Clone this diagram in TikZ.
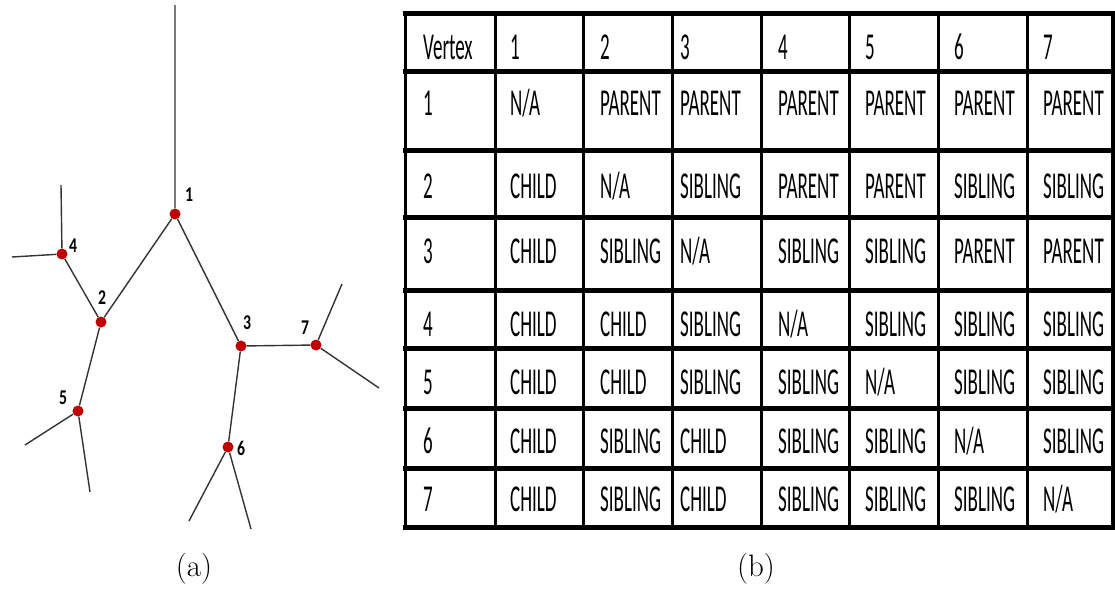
\documentclass[tikz,border=0pt]{standalone}
\usepackage{fontspec}
\newfontfamily\cellfont[FakeStretch=0.5]{Carlito}
\newfontfamily\labfont[FakeStretch=0.75]{Carlito}
\begin{document}
\begin{tikzpicture}[x=1pt,y=-1pt,
	vtx/.style={circle,fill=red!75!black,inner sep=0pt,minimum size=11pt},
	edge/.style={draw=black!80,line width=1.4pt},
	lab/.style={font=\labfont\bfseries\fontsize{21}{24}\selectfont,inner sep=0pt},
	cell/.style={anchor=base west,inner sep=0pt,font=\cellfont\fontsize{38}{44}\selectfont},
	caption/.style={font=\fontsize{31}{36}\selectfont}]
			\useasboundingbox (0,0) rectangle (1115,589);
			% (a) the tree
			\coordinate (top) at (175,5);
			\coordinate (e4a) at (61,185); \coordinate (e4b) at (12,257);
			\coordinate (e5a) at (25,445); \coordinate (e5b) at (90,492);
			\coordinate (e6a) at (189,521); \coordinate (e6b) at (251,529);
			\coordinate (e7a) at (342,284); \coordinate (e7b) at (379,388);
			\node [vtx] (v1) at (175,214) {};
			\node [vtx] (v2) at (101,322) {};
			\node [vtx] (v3) at (241,346) {};
			\node [vtx] (v4) at (62,254) {};
			\node [vtx] (v5) at (78,411) {};
			\node [vtx] (v6) at (228,447) {};
			\node [vtx] (v7) at (316,345) {};
			\draw [edge] (v1) -- (top) (v1) -- (v2) (v1) -- (v3) (v2) -- (v4) (v2) -- (v5) (v3) -- (v6) (v3) -- (v7);
			\draw [edge] (v4) -- (e4a) (v4) -- (e4b) (v5) -- (e5a) (v5) -- (e5b);
			\draw [edge] (v6) -- (e6a) (v6) -- (e6b) (v7) -- (e7a) (v7) -- (e7b);
			\node [lab] (l1) at (189,195) {1};
			\node [lab] (l2) at (102,298) {2};
			\node [lab] (l3) at (247,323) {3};
			\node [lab] (l4) at (73,246) {4};
			\node [lab] (l5) at (63,398) {5};
			\node [lab] (l6) at (241,448) {6};
			\node [lab] (l7) at (305,328) {7};
			\node [caption] (capa) at (194,569) {(a)};
			% (b) the table
			\foreach \y in {13,71,150,217,290,348,408,468,527}
				\draw [line width=5pt] (403,\y) -- (1115,\y);
			\foreach \x in {405,495,583,672,761,849,938,1027}
				\draw [line width=3pt] (\x,13) -- (\x,527);
			\draw [line width=4pt] (1113,13) -- (1113,527);
			\foreach \r/\y/\cells in {
				0/59/{Vertex,1,2,3,4,5,6,7},
				1/115/{1,N/A,PARENT,PARENT,PARENT,PARENT,PARENT,PARENT},
				2/198/{2,CHILD,N/A,SIBLING,PARENT,PARENT,SIBLING,SIBLING},
				3/263/{3,CHILD,SIBLING,N/A,SIBLING,SIBLING,PARENT,PARENT},
				4/336/{4,CHILD,CHILD,SIBLING,N/A,SIBLING,SIBLING,SIBLING},
				5/394/{5,CHILD,CHILD,SIBLING,SIBLING,N/A,SIBLING,SIBLING},
				6/453/{6,CHILD,SIBLING,CHILD,SIBLING,SIBLING,N/A,SIBLING},
				7/511/{7,CHILD,SIBLING,CHILD,SIBLING,SIBLING,SIBLING,N/A}}
				\foreach \t [count=\c] in \cells {
					\pgfmathsetmacro{\cx}{{423,510,600,680,778,865,954,1043}[\c-1]}
					\node [cell] (cell-\r-\c) at (\cx,\y) {\t};
				}
			\node [caption] (capb) at (756,569) {(b)};
			\end{tikzpicture}
\end{document}
